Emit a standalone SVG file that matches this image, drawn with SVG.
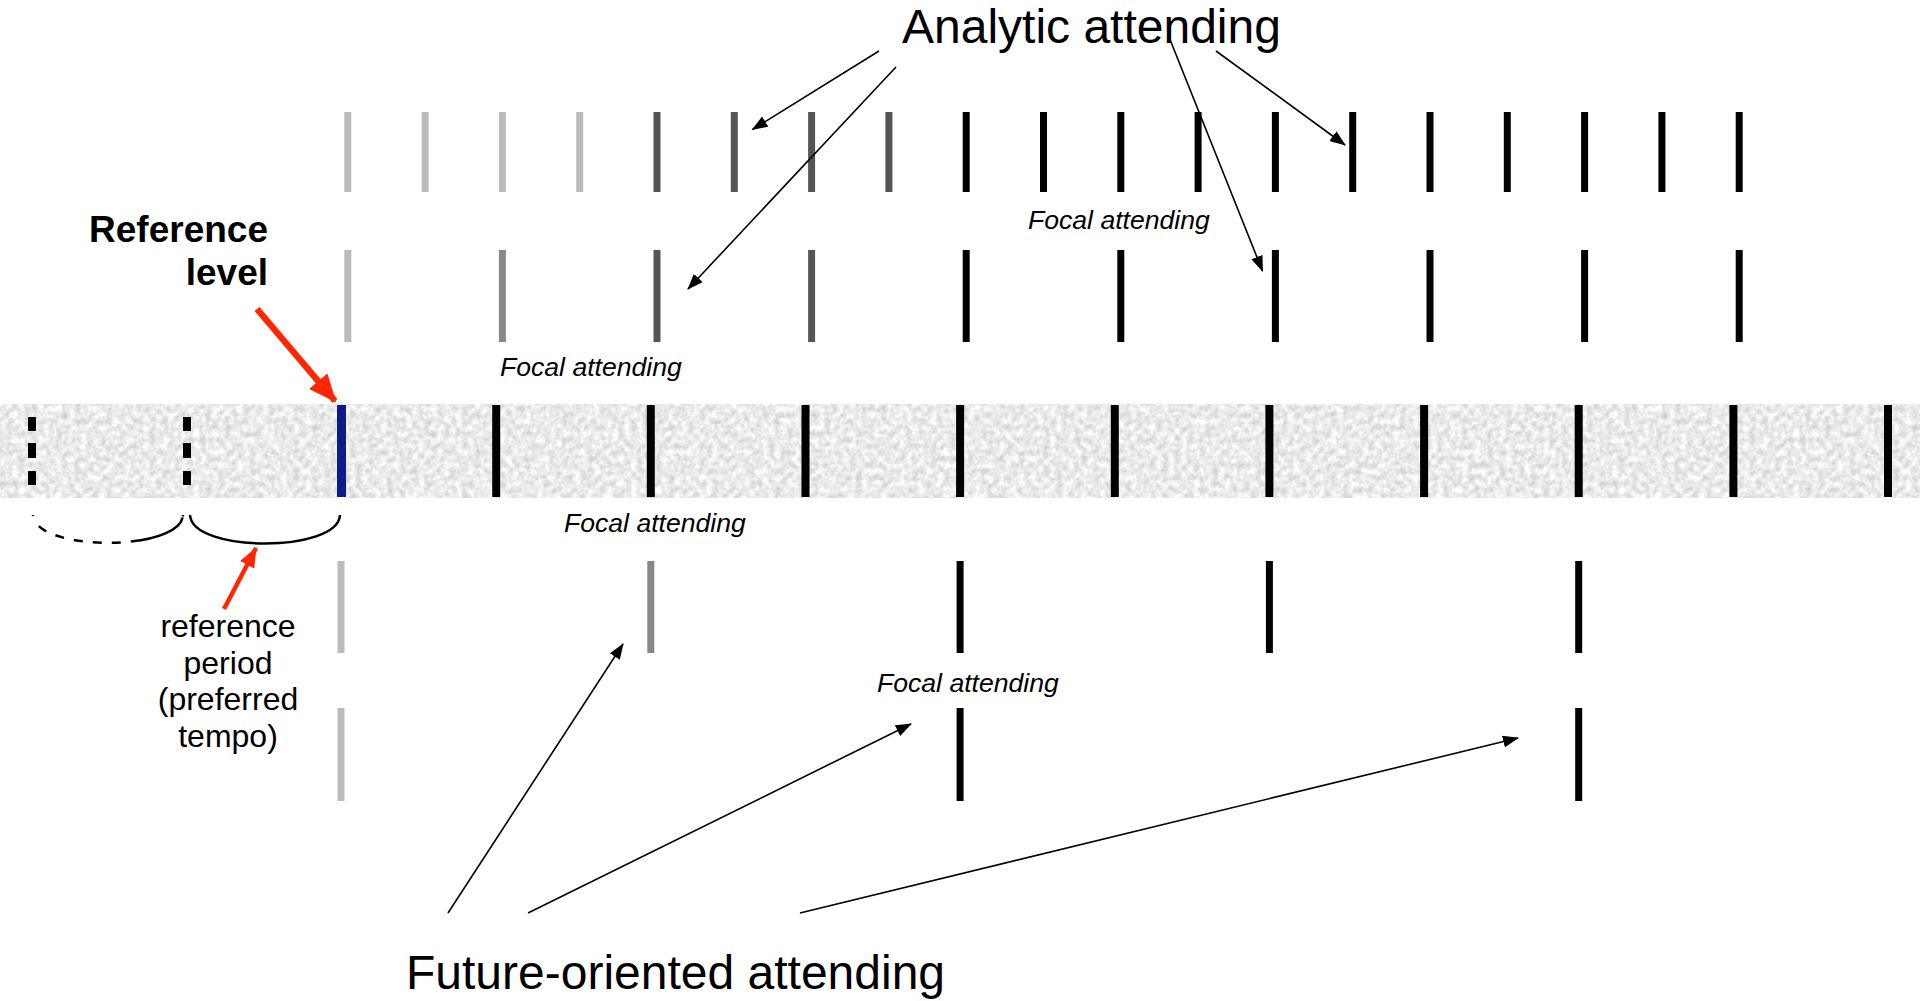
<svg xmlns="http://www.w3.org/2000/svg" width="1920" height="1001" viewBox="0 0 1920 1001">
<style>
.t{font-family:"Liberation Sans",Arial,sans-serif;fill:#000}
.big{font-size:48px}
.foc{font-size:26.6px;font-style:italic}
.ref{font-size:37px;font-weight:bold}
.per{font-size:32px}
.b{stroke-width:7}
.bb{stroke-width:8;stroke:#000}
.lg{stroke:#bbb}.mg{stroke:#888}.dg{stroke:#555}.bk{stroke:#000}
.ar{stroke:#000;stroke-width:1.6;fill:none;marker-end:url(#ah)}
</style>
<defs>
<filter id="noise" x="0" y="0" width="100%" height="100%" color-interpolation-filters="sRGB">
<feTurbulence type="fractalNoise" baseFrequency="0.16" numOctaves="2" seed="4"/>
<feColorMatrix type="matrix" values="0.3 0 0 0 0.77  0.3 0 0 0 0.77  0.3 0 0 0 0.77  0 0 0 0 1"/>
</filter>
<marker id="ah" markerWidth="16" markerHeight="12" refX="15" refY="6" orient="auto" markerUnits="userSpaceOnUse"><path d="M0,0 L16,6 L0,12 Z" fill="#000"/></marker>
<marker id="rh1" markerWidth="28" markerHeight="24" refX="26" refY="12" orient="auto" markerUnits="userSpaceOnUse"><path d="M0,0 L28,12 L0,24 Z" fill="#ff2600"/></marker>
<marker id="rh2" markerWidth="20" markerHeight="16" refX="19" refY="8" orient="auto" markerUnits="userSpaceOnUse"><path d="M0,0 L20,8 L0,16 Z" fill="#ff2600"/></marker>
</defs>
<rect width="1920" height="1001" fill="#fff"/>

<g id="band">
<rect x="0" y="404" width="1920" height="94" filter="url(#noise)"/>
<g fill="#000">
<rect x="28" y="417" width="8" height="14"/><rect x="28" y="443" width="8" height="15"/><rect x="28" y="471" width="8" height="14"/>
<rect x="183" y="417" width="8" height="14"/><rect x="183" y="443" width="8" height="15"/><rect x="183" y="471" width="8" height="14"/>
</g>
<line x1="341.5" y1="405" x2="341.5" y2="497" stroke="#0d1c8c" stroke-width="9"/>
<g class="bb">
<line x1="496.2" y1="405" x2="496.2" y2="497"/>
<line x1="650.8" y1="405" x2="650.8" y2="497"/>
<line x1="805.5" y1="405" x2="805.5" y2="497"/>
<line x1="960.1" y1="405" x2="960.1" y2="497"/>
<line x1="1114.8" y1="405" x2="1114.8" y2="497"/>
<line x1="1269.4" y1="405" x2="1269.4" y2="497"/>
<line x1="1424.1" y1="405" x2="1424.1" y2="497"/>
<line x1="1578.7" y1="405" x2="1578.7" y2="497"/>
<line x1="1733.4" y1="405" x2="1733.4" y2="497"/>
<line x1="1888" y1="405" x2="1888" y2="497"/>
</g>
</g>

<g id="row1" class="b">
<line class="lg" x1="347.8" y1="112" x2="347.8" y2="192"/>
<line class="lg" x1="425.1" y1="112" x2="425.1" y2="192"/>
<line class="lg" x1="502.4" y1="112" x2="502.4" y2="192"/>
<line class="lg" x1="579.7" y1="112" x2="579.7" y2="192"/>
<line class="dg" x1="657" y1="112" x2="657" y2="192"/>
<line class="dg" x1="734.3" y1="112" x2="734.3" y2="192"/>
<line class="dg" x1="811.6" y1="112" x2="811.6" y2="192"/>
<line class="dg" x1="888.9" y1="112" x2="888.9" y2="192"/>
<line class="bk" x1="966.2" y1="112" x2="966.2" y2="192"/>
<line class="bk" x1="1043.5" y1="112" x2="1043.5" y2="192"/>
<line class="bk" x1="1120.8" y1="112" x2="1120.8" y2="192"/>
<line class="bk" x1="1198.1" y1="112" x2="1198.1" y2="192"/>
<line class="bk" x1="1275.4" y1="112" x2="1275.4" y2="192"/>
<line class="bk" x1="1352.7" y1="112" x2="1352.7" y2="192"/>
<line class="bk" x1="1430" y1="112" x2="1430" y2="192"/>
<line class="bk" x1="1507.3" y1="112" x2="1507.3" y2="192"/>
<line class="bk" x1="1584.6" y1="112" x2="1584.6" y2="192"/>
<line class="bk" x1="1661.9" y1="112" x2="1661.9" y2="192"/>
<line class="bk" x1="1739.2" y1="112" x2="1739.2" y2="192"/>
</g>

<g id="row2" class="b">
<line class="lg" x1="347.8" y1="250" x2="347.8" y2="342"/>
<line class="mg" x1="502.4" y1="250" x2="502.4" y2="342"/>
<line class="dg" x1="657" y1="250" x2="657" y2="342"/>
<line class="dg" x1="811.6" y1="250" x2="811.6" y2="342"/>
<line class="bk" x1="966.2" y1="250" x2="966.2" y2="342"/>
<line class="bk" x1="1120.8" y1="250" x2="1120.8" y2="342"/>
<line class="bk" x1="1275.4" y1="250" x2="1275.4" y2="342"/>
<line class="bk" x1="1430" y1="250" x2="1430" y2="342"/>
<line class="bk" x1="1584.6" y1="250" x2="1584.6" y2="342"/>
<line class="bk" x1="1739.2" y1="250" x2="1739.2" y2="342"/>
</g>

<g id="row4" class="b">
<line class="lg" x1="341" y1="561" x2="341" y2="653"/>
<line class="mg" x1="650.8" y1="561" x2="650.8" y2="653"/>
<line class="bk" x1="960.1" y1="561" x2="960.1" y2="653"/>
<line class="bk" x1="1269.4" y1="561" x2="1269.4" y2="653"/>
<line class="bk" x1="1578.7" y1="561" x2="1578.7" y2="653"/>
</g>

<g id="row5" class="b">
<line class="lg" x1="341" y1="708" x2="341" y2="801"/>
<line class="bk" x1="960.1" y1="708" x2="960.1" y2="801"/>
<line class="bk" x1="1578.7" y1="708" x2="1578.7" y2="801"/>
</g>

<g id="periods" fill="none" stroke="#000" stroke-width="2.5">
<path d="M33,515 C35,552 181,552 183,515" stroke-dasharray="1 12 9 10 9 10 9 10 9 10 9 10 60"/>
<path d="M190,515 C192,553 338,553 340,515"/>
</g>

<g id="connectors">
<line class="ar" x1="879" y1="51" x2="752.5" y2="129.5"/>
<line class="ar" x1="896" y1="67" x2="688" y2="289"/>
<line class="ar" x1="1169" y1="37" x2="1262.5" y2="271"/>
<line class="ar" x1="1216" y1="51" x2="1345" y2="145"/>
<line class="ar" x1="448" y1="913" x2="623" y2="644"/>
<line class="ar" x1="528" y1="913" x2="911" y2="724"/>
<line class="ar" x1="800" y1="913" x2="1518" y2="738"/>
<line x1="257" y1="309" x2="335" y2="401" stroke="#ff2600" stroke-width="6.5" marker-end="url(#rh1)"/>
<line x1="224" y1="609" x2="256" y2="548" stroke="#ff2600" stroke-width="4.5" marker-end="url(#rh2)"/>
</g>

<g id="label-analytic"><text class="t big" x="902" y="43">Analytic attending</text></g>
<g id="label-future"><text class="t big" x="406" y="989">Future-oriented attending</text></g>
<g id="label-reference-level"><text class="t ref" text-anchor="end"><tspan x="268" y="242">Reference</tspan><tspan x="268" y="285">level</tspan></text></g>
<g id="label-reference-period"><text class="t per" text-anchor="middle"><tspan x="228" y="637">reference</tspan><tspan x="228" y="674">period</tspan><tspan x="228" y="710">(preferred</tspan><tspan x="228" y="747">tempo)</tspan></text></g>
<g id="focal1"><text class="t foc" x="1028" y="229">Focal attending</text></g>
<g id="focal2"><text class="t foc" x="500" y="376">Focal attending</text></g>
<g id="focal3"><text class="t foc" x="564" y="532">Focal attending</text></g>
<g id="focal4"><text class="t foc" x="877" y="692">Focal attending</text></g>
</svg>
